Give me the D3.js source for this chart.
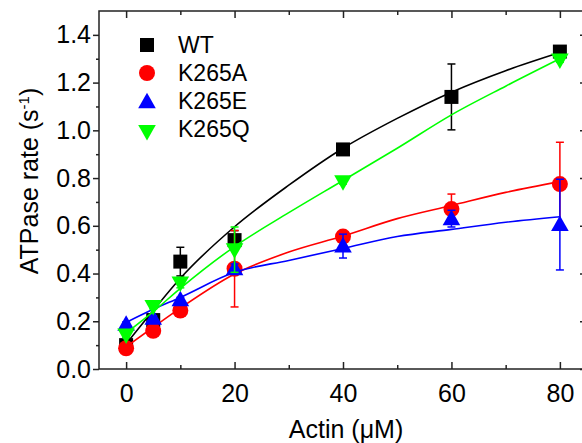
<!DOCTYPE html>
<html>
<head>
<meta charset="utf-8">
<script src="https://cdn.jsdelivr.net/npm/d3@7"></script>
<style>
  html, body { margin: 0; padding: 0; background: #fff; }
  svg { display: block; font-family: "Liberation Sans", Arial, sans-serif; }
</style>
</head>
<body>
<svg id="chart" width="582" height="443"></svg>
<script>
// ---- data ----
const actin = [0, 5, 10, 20, 40, 60, 80];
const seriesNames = ["WT", "K265A", "K265E", "K265Q"];
const seriesColors = ["#000000", "#ff0000", "#0000ff", "#00ff00"];
const wtRate     = [0.10, 0.205, 0.45, 0.54, 0.92, 1.14, 1.33];
const wtErr      = [0.01, 0.02, 0.06, 0.04, 0.01, 0.138, 0.01];
const k265aRate  = [0.087, 0.16, 0.245, 0.42, 0.555, 0.67, 0.775];
const k265aErr   = [0.01, 0.02, 0.015, 0.16, 0.015, 0.063, 0.175];
const k265eRate  = [0.187, 0.213, 0.29, 0.42, 0.515, 0.63, 0.605];
const k265eErr   = [0.01, 0.01, 0.01, 0.02, 0.05, 0.035, 0.19];
const k265qRate  = [0.142, 0.262, 0.36, 0.50, 0.785, null, 1.295];
const k265qErr   = [0.01, 0.01, 0.02, 0.095, 0.01, null, 0.01];
// fitted curves
const fitX       = [0, 5, 10, 20, 30, 40, 50, 60, 70, 80];
const wtFit      = [0.105, 0.245, 0.38, 0.596, 0.77, 0.925, 1.05, 1.16, 1.25, 1.326];
const k265aFit   = [0.093, 0.175, 0.255, 0.398, 0.49, 0.557, 0.63, 0.685, 0.74, 0.785];
const k265eFit   = [0.195, 0.25, 0.30, 0.405, 0.455, 0.505, 0.555, 0.585, 0.615, 0.638];
const k265qFit   = [0.15, 0.24, 0.338, 0.513, 0.655, 0.79, 0.925, 1.065, 1.185, 1.30];
const xTicks = [0, 20, 40, 60, 80];
const yTicks = [0.0, 0.2, 0.4, 0.6, 0.8, 1.0, 1.2, 1.4];
const xMinor = [10, 30, 50, 70];
const yMinor = [0.1, 0.3, 0.5, 0.7, 0.9, 1.1, 1.3];
const symbols = ["square", "circle", "triangleUp", "triangleDown"];

const rates = [wtRate, k265aRate, k265eRate, k265qRate];
const errs = [wtErr, k265aErr, k265eErr, k265qErr];
const fits = [wtFit, k265aFit, k265eFit, k265qFit];

// ---- layout ----
const svg = d3.select("#chart");
const L = 99, R = 587, T = 11, B = 369;
const x = d3.scaleLinear().domain([-5, 85]).range([L, R]);
const y = d3.scaleLinear().domain([0, 1.5]).range([B, T]);
const axisColor = "#222";
const tickFont = 25;

// axes
const gx = svg.append("g").attr("transform", `translate(0,${B})`)
  .call(d3.axisBottom(x).tickValues(xTicks).tickFormat(d3.format("d")).tickSize(-7).tickPadding(15));
const gxm = svg.append("g").attr("transform", `translate(0,${B})`)
  .call(d3.axisBottom(x).tickValues(xMinor).tickFormat("").tickSize(-4));
const gxt = svg.append("g").attr("transform", `translate(0,${T})`)
  .call(d3.axisTop(x).tickValues(xTicks).tickFormat("").tickSize(-7));
const gxtm = svg.append("g").attr("transform", `translate(0,${T})`)
  .call(d3.axisTop(x).tickValues(xMinor).tickFormat("").tickSize(-4));
const gy = svg.append("g").attr("transform", `translate(${L},0)`)
  .call(d3.axisLeft(y).tickValues(yTicks).tickFormat(d3.format(".1f")).tickSize(6).tickPadding(2));
const gym = svg.append("g").attr("transform", `translate(${L},0)`)
  .call(d3.axisLeft(y).tickValues(yMinor).tickFormat("").tickSize(3));
const gyr = svg.append("g").attr("transform", `translate(${R},0)`)
  .call(d3.axisRight(y).tickValues(yTicks).tickFormat("").tickSize(-7));
const gyrm = svg.append("g").attr("transform", `translate(${R},0)`)
  .call(d3.axisRight(y).tickValues(yMinor).tickFormat("").tickSize(-4));

[gx, gxm, gxt, gxtm, gy, gym, gyr, gyrm].forEach(g => {
  g.select(".domain").remove();
  g.selectAll(".tick line").attr("stroke", axisColor).attr("stroke-width", 1.5);
  g.selectAll(".tick text").attr("fill", "#000").style("font-size", tickFont + "px")
    .style("font-family", '"Liberation Sans", Arial, sans-serif');
});
gx.selectAll(".tick text").attr("dy", "0.71em");

// frame
svg.append("rect").attr("x", L).attr("y", T).attr("width", R - L).attr("height", B - T)
  .attr("fill", "none").attr("stroke", axisColor).attr("stroke-width", 1.5);

// axis titles
svg.append("text").attr("x", x(40) + 3).attr("y", 438).attr("text-anchor", "middle")
  .style("font-size", "25px").text("Actin (\u03BCM)");
const yt = svg.append("text").attr("transform", "translate(38,181) rotate(-90)")
  .attr("text-anchor", "middle").style("font-size", "25px");
yt.append("tspan").text("ATPase rate (s");
yt.append("tspan").attr("dy", -9).style("font-size", "15px").text("-1");
yt.append("tspan").attr("dy", 9).text(")");

// symbol paths
function markerPath(type) {
  switch (type) {
    case "square": return d3.symbol(d3.symbolSquare, 14 * 14)();
    case "circle": return d3.symbol(d3.symbolCircle, Math.PI * 8 * 8)();
    case "triangleUp": return "M0,-9L8.8,6.5L-8.8,6.5Z";
    case "triangleDown": return "M0,9L8.8,-6.5L-8.8,-6.5Z";
  }
}

const plot = svg.append("g");
const line = d3.line().x(d => x(d[0])).y(d => y(d[1])).curve(d3.curveMonotoneX);

seriesNames.forEach((name, i) => {
  const color = seriesColors[i];
  const g = plot.append("g");
  // fit curve
  g.append("path").datum(fitX.map((v, j) => [v, fits[i][j]]))
    .attr("d", line).attr("fill", "none").attr("stroke", color).attr("stroke-width", 1.6);
  const pts = actin.map((v, j) => ({ x: v, y: rates[i][j], e: errs[i][j] })).filter(d => d.y != null);
  // markers
  g.selectAll(".m").data(pts).enter().append("path")
    .attr("transform", d => `translate(${x(d.x)},${y(d.y)})`)
    .attr("d", markerPath(symbols[i])).attr("fill", color);
  // error bars
  const eb = g.selectAll(".e").data(pts).enter().append("g").attr("stroke", color).attr("stroke-width", 1.5);
  eb.append("line").attr("x1", d => x(d.x)).attr("x2", d => x(d.x))
    .attr("y1", d => y(d.y - d.e)).attr("y2", d => y(d.y + d.e));
  eb.append("line").attr("x1", d => x(d.x) - 4).attr("x2", d => x(d.x) + 4)
    .attr("y1", d => y(d.y + d.e)).attr("y2", d => y(d.y + d.e));
  eb.append("line").attr("x1", d => x(d.x) - 4).attr("x2", d => x(d.x) + 4)
    .attr("y1", d => y(d.y - d.e)).attr("y2", d => y(d.y - d.e));
});

// legend
const legY = [45, 73, 100.7, 128.4];
seriesNames.forEach((name, i) => {
  const g = svg.append("g").attr("transform", `translate(147,${legY[i]})`);
  g.append("path").attr("d", markerPath(symbols[i])).attr("fill", seriesColors[i])
    .attr("transform", symbols[i] === "triangleUp" ? "translate(0,1)" : symbols[i] === "triangleDown" ? "translate(0,3)" : null);
  g.append("text").attr("x", 31).attr("y", 8.3).style("font-size", "23px").text(name);
});
</script>
</body>
</html>
